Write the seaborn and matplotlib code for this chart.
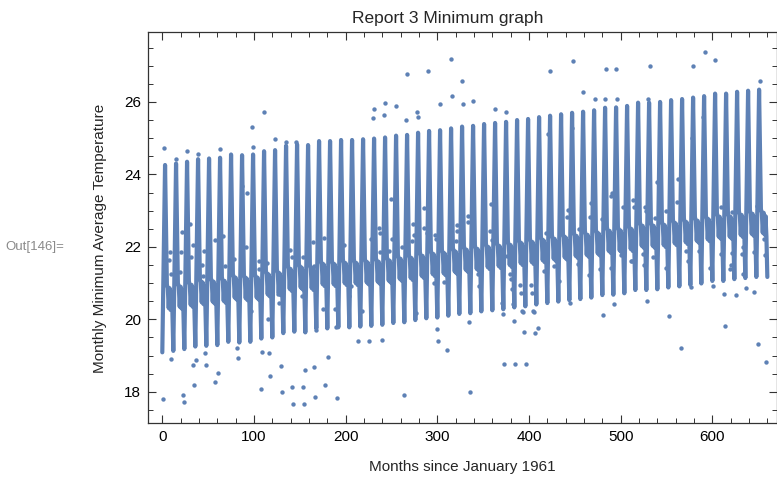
import numpy as np
import pandas as pd
import matplotlib
matplotlib.use("Agg")
import matplotlib.pyplot as plt
import seaborn as sns
from matplotlib.ticker import MultipleLocator

# ---------------- data ----------------
# fitted-model seasonal profile (month-in-year 0..11), relative to the yearly spike peak
season_profile = [-5.17, -3.5, -1.75, 0.0, -1.7, -3.3, -3.4, -3.95, -3.4, -4.0, -3.5, -4.05]
# yearly spike peak of the model line (55 years)
year_peaks = [24.31, 24.35, 24.40, 24.47, 24.49, 24.51, 24.60, 24.58, 24.60, 24.69,
              24.72, 24.84, 24.88, 24.86, 24.97, 24.97, 25.00, 25.00,
              25.02, 25.04, 25.07, 25.12, 25.14, 25.20, 25.25, 25.27, 25.32, 25.37,
              25.39, 25.44, 25.47, 25.50, 25.55, 25.58, 25.63, 25.67, 25.71,
              25.75, 25.78, 25.82, 25.89, 25.90, 25.94, 26.03, 26.03, 26.05, 26.10,
              26.13, 26.17, 26.21, 26.28, 26.28, 26.33, 26.36, 26.39]

# observed monthly values that are visible outside the model line
obs_months = [2, 15, 27, 39, 63, 98, 99, 111, 123, 135, 146, 92, 21, 8, 7, 9, 20, 19, 33, 31,
              45, 43, 44, 57, 66, 68, 78, 91, 87, 105, 106, 114, 126, 127, 139, 141, 154, 152,
              164, 165, 176, 175, 198, 204, 206, 30, 97,
              315, 267, 290, 327, 423, 316, 303, 328, 339, 243, 231, 230, 242, 255, 278, 279,
              266, 363, 375, 421, 249, 286, 359, 443, 441, 334, 333, 321, 322, 273, 275, 285,
              289, 298, 299, 236, 238, 251, 247, 261, 272, 237, 228, 320, 357, 360, 342, 376,
              419, 426, 439, 427, 416, 307, 296, 344, 345, 379, 380, 381, 390, 391, 402, 403,
              433, 371, 383, 392, 393, 404, 405, 372, 384, 395, 407, 410, 335, 300, 301, 311,
              214, 226, 240, 373, 385, 397, 264, 336, 218, 277,
              448, 592, 603, 579, 532, 484, 495, 459, 472, 483, 496, 530, 652, 447, 590, 578,
              468, 467, 491, 490, 480, 503, 514, 515, 527, 528, 540, 538, 550, 563, 562, 610,
              622, 649, 658, 645, 632, 634, 621, 609, 585, 573, 571, 549, 535, 524, 525, 511,
              512, 500, 489, 477, 465, 453, 455, 597, 601, 613, 626, 620, 619, 633, 637, 646,
              614, 650, 659, 656, 657, 566, 553, 529, 493, 481, 445, 577,
              1, 23, 24, 35, 58, 108, 131, 142, 153, 143, 155, 167, 177, 191,
              10, 34, 37, 47, 48, 61, 82, 83, 109, 116, 118, 130, 156, 166, 181, 115, 188, 190, 168]
obs_values = [24.74, 24.42, 24.65, 24.56, 24.69, 25.32, 24.77, 25.72, 24.99, 24.90, 24.90, 23.50,
              22.40, 21.87, 21.64, 21.25, 21.85, 21.30, 22.04, 21.71,
              21.90, 21.50, 21.20, 22.19, 22.30, 21.46, 21.66, 22.01, 23.68, 21.60, 21.38, 21.55,
              20.70, 20.46, 21.92, 21.71, 21.71, 20.65,
              22.13, 21.46, 22.24, 20.28, 22.05, 20.65, 20.91, 22.63, 20.22,
              27.18, 26.76, 26.86, 26.58, 26.84, 26.17, 25.94, 25.94, 26.02, 25.97, 25.80, 25.57,
              25.65, 25.90, 25.71, 25.59,
              25.49, 25.80, 25.73, 25.12, 23.33, 23.06, 23.19, 23.02, 22.83, 22.84, 22.69, 22.61,
              22.44, 22.62, 22.33, 22.52,
              22.38, 22.32, 22.23, 22.51, 22.39, 22.21, 21.89, 22.00, 22.15, 21.87, 22.22, 22.15,
              22.44, 22.19, 21.90, 21.76,
              22.38, 22.22, 21.99, 21.47, 21.34, 21.03, 20.99, 21.24, 20.92, 21.25, 21.11, 20.85,
              20.95, 20.74, 20.96, 20.74,
              21.06, 20.45, 20.43, 20.24, 20.19, 20.24, 20.20, 20.15, 19.95, 19.64, 19.63, 19.75,
              19.94, 19.73, 19.39, 19.16,
              19.41, 19.41, 19.44, 18.77, 18.77, 18.77, 17.92, 18.00, 20.22, 20.17,
              27.14, 27.39, 27.16, 26.99, 26.99, 26.90, 26.90, 26.28, 26.09, 26.09, 26.09, 26.09,
              26.59, 25.27, 25.59, 25.00,
              23.20, 22.82, 23.50, 23.41, 22.77, 23.09, 23.30, 23.10, 23.11, 23.00, 23.80, 22.80,
              23.00, 23.87, 23.23, 23.11,
              22.96, 23.14, 22.86, 21.85, 21.80, 22.01, 21.82, 21.81, 21.90, 21.61, 21.90, 21.41,
              21.73, 21.81, 21.50, 21.61,
              21.61, 21.78, 21.41, 21.38, 21.23, 21.53, 22.49, 21.41, 20.93, 20.70, 20.67, 21.50,
              21.38, 21.25, 20.86, 20.76,
              19.82, 19.31, 18.82, 22.22, 21.78, 19.22, 20.08, 20.51, 20.42, 20.11, 20.46, 20.89,
              17.81, 17.91, 17.72, 18.20, 18.26, 18.07, 17.99, 18.12, 18.12, 17.66, 17.66, 17.87,
              18.18, 17.83,
              18.90, 18.74, 18.89, 19.06, 18.74, 18.52, 19.22, 18.92, 19.11, 19.08, 18.45, 18.71,
              18.61, 18.69, 18.95, 20.01, 20.28, 19.80, 19.71]

x_ticks = [0, 100, 200, 300, 400, 500, 600]
y_ticks = [18, 20, 22, 24, 26]
title = "Report 3 Minimum graph"
x_label = "Months since January 1961"
y_label = "Monthly Minimum Average Temperature"

# ---------------- build tables ----------------
model_months = np.arange(0, 661)
model_vals = [year_peaks[min(m // 12, len(year_peaks) - 1)] - 0.05 + season_profile[m % 12]
              for m in model_months]
model_df = pd.DataFrame({"month": model_months, "temp": model_vals})
obs_df = pd.DataFrame({"month": obs_months, "temp": obs_values})

# ---------------- style ----------------
sns.set_style("ticks")
plt.rcParams["font.family"] = ["Liberation Sans", "DejaVu Sans"]
blue = "#5E81B5"

fig = plt.figure(figsize=(7.77, 4.79), dpi=100)
ax = fig.add_axes([148 / 777, 1 - 423 / 479, (776.5 - 148) / 777, (423 - 32) / 479])

sns.lineplot(data=model_df, x="month", y="temp", ax=ax, color=blue, linewidth=3.0,
             estimator=None, sort=False, zorder=2)
sns.scatterplot(data=obs_df, x="month", y="temp", ax=ax, color=blue, s=10,
                linewidth=0, zorder=3)

ax.set_xlim(-15.6, 670)
ax.set_ylim(17.14, 27.93)
ax.set_xticks(x_ticks)
ax.set_yticks(y_ticks)
ax.xaxis.set_minor_locator(MultipleLocator(20))
ax.yaxis.set_minor_locator(MultipleLocator(0.5))
ax.tick_params(which="both", direction="in", top=True, right=True, labeltop=False,
               labelright=False, color="#333333", labelsize=11, labelcolor="black", pad=5)
ax.tick_params(which="major", length=6, width=0.8)
ax.tick_params(which="minor", length=3.5, width=0.7)
for sp in ax.spines.values():
    sp.set_visible(True)
    sp.set_color("#333333")
    sp.set_linewidth(0.9)
ax.set_xlabel("")
ax.set_ylabel("")

fig.text(448 / 777, 1 - 18 / 479, title, ha="center", va="center", fontsize=12.5)
fig.text(462 / 777, 1 - 467 / 479, x_label, ha="center", va="center", fontsize=11)
fig.text(100 / 777, 1 - 238 / 479, y_label, ha="center", va="center", rotation=90, fontsize=11)
fig.text(5 / 777, 1 - 247 / 479, "Out[146]=", ha="left", va="center", fontsize=9.5,
         color="#8a8a8a")

fig.savefig("out.png", dpi=100)
